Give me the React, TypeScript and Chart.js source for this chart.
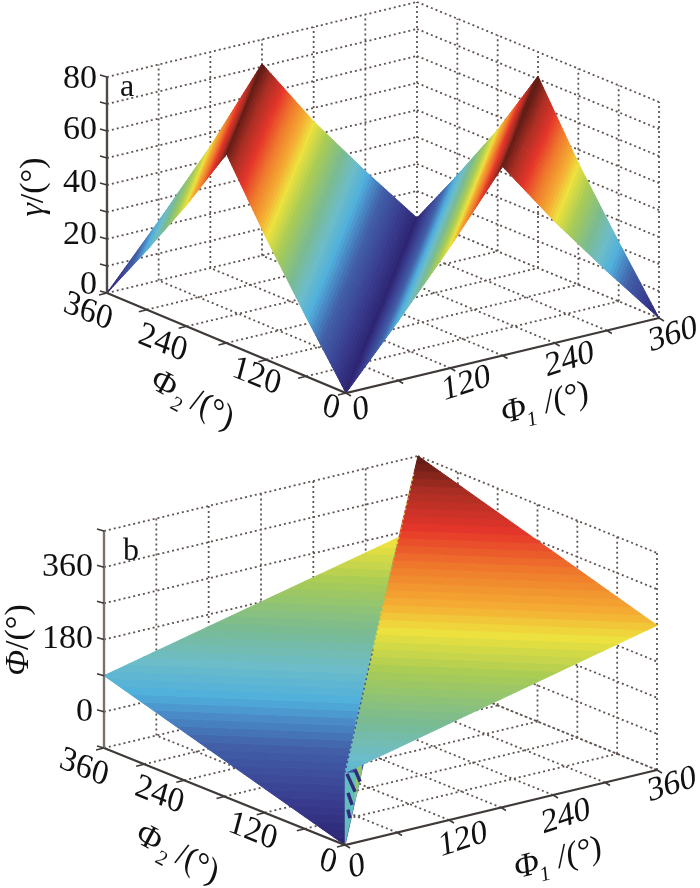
import React, { useEffect, useRef } from "react";
import { Chart, registerables } from "chart.js";

Chart.register(...registerables);

// ---- data ----
const PHI_GRID = [0, 60, 120, 180, 240, 300, 360];
const PHI_TICK_LABELS = ["0", "120", "240", "360"];
const GAMMA_TICKS = [0, 10, 20, 30, 40, 50, 60, 70, 80];
const GAMMA_TICK_LABELS = ["0", "20", "40", "60", "80"];
const PHI_Z_TICKS = [-90, 0, 90, 180, 270, 360, 450];
const PHI_Z_TICK_LABELS = ["0", "180", "360"];

// gamma(Φ1, Φ2): rows by Φ2, columns by Φ1
const GAMMA_ROWS = [
  [0, 22, 45, 70, 45, 22, 0],
  [22, 0, 22, 45, 70, 45, 22],
  [45, 22, 0, 22, 45, 71, 45],
  [70, 45, 22, 0, 22, 45, 71],
  [45, 70, 45, 22, 0, 22, 45],
  [22, 45, 70, 45, 22, 0, 22],
  [0, 22, 45, 71, 45, 22, 0],
];
// Φ(Φ1, Φ2), upper sheet (Φ1 >= Φ2)
const PHI_UPPER_ROWS: (number | null)[][] = [
  [90, 120, 150, 180, 210, 240, 270],
  [null, 150, 180, 210, 240, 270, 300],
  [null, null, 210, 240, 270, 300, 330],
  [null, null, null, 270, 300, 330, 360],
  [null, null, null, null, 330, 360, 390],
  [null, null, null, null, null, 390, 420],
  [null, null, null, null, null, null, 450],
];
// Φ(Φ1, Φ2), lower sheet (Φ2 >= Φ1)
const PHI_LOWER_ROWS: (number | null)[][] = [
  [-90, null, null, null, null, null, null],
  [-60, -30, null, null, null, null, null],
  [-30, 0, 30, null, null, null, null],
  [0, 30, 60, 90, null, null, null],
  [30, 60, 90, 120, 150, null, null],
  [60, 90, 120, 150, 180, 210, null],
  [90, 120, 150, 180, 210, 240, 270],
];
// hatch on the wall joining the two sheets near the origin: [Φ, z] ends
const SEAM_T0 = [10, 51, 15, 15];
const SEAM_Z0 = [75, 37, 22, -20];
const SEAM_T1 = [51, 76, 36, 25];
const SEAM_Z1 = [-18, -23, -33, -53];

// ---- styles ----
const JET: [number, string][] = [
  [0, "#2c2371"], [0.1, "#3a3f92"], [0.2, "#4160a8"], [0.26, "#4a8dc8"], [0.3, "#4fb0dc"], [0.37, "#6dbcc8"],
  [0.45, "#7bbb8f"], [0.55, "#a8cc55"], [0.635, "#eee23d"], [0.69, "#f4ad33"], [0.77, "#ef7a2c"],
  [0.85, "#e5352a"], [0.93, "#a92d22"], [1, "#5a1a14"],
];
const GRID_COLOR = "#5f5450";
const AXIS_COLOR = "#3f3a38";
const TXT = "#111111";

type Panel = { o: number[]; u: number[]; v: number[]; c: number; zMin: number; zMax: number; zPx: number };
const PANEL_A: Panel = { o: [346, 393], u: [313, -75], v: [-239, -100], c: -3, zMin: 0, zMax: 80, zPx: 216 };
const PANEL_B: Panel = { o: [345, 845], u: [312, -75], v: [-241, -97], c: 2, zMin: -90, zMax: 450, zPx: 217 };

const project = (p: Panel, a: number, b: number, z: number) => ({
  x: p.o[0] + (p.u[0] * a) / 360 + (p.v[0] * b) / 360 + (p.c * a * b) / 129600,
  y: p.o[1] + (p.u[1] * a) / 360 + (p.v[1] * b) / 360 - ((z - p.zMin) / (p.zMax - p.zMin)) * p.zPx,
});

const hex = (s: string) => [1, 3, 5].map((i) => parseInt(s.slice(i, i + 2), 16));
const jet = (t: number) => {
  for (let i = 1; i < JET.length; i++) {
    if (t <= JET[i][0]) {
      const [a, ca] = JET[i - 1];
      const [b, cb] = JET[i];
      const f = (t - a) / (b - a);
      const A = hex(ca);
      const B = hex(cb);
      return `rgb(${A.map((v, k) => Math.round(v + (B[k] - v) * f)).join(",")})`;
    }
  }
  return JET[JET.length - 1][1];
};

type V = [number, number, number];
const clip = (poly: V[], lim: number, keepAbove: boolean): V[] => {
  const out: V[] = [];
  for (let i = 0; i < poly.length; i++) {
    const a = poly[i];
    const b = poly[(i + 1) % poly.length];
    const ia = keepAbove ? a[2] >= lim : a[2] <= lim;
    const ib = keepAbove ? b[2] >= lim : b[2] <= lim;
    if (ia) out.push(a);
    if (ia !== ib) {
      const f = (lim - a[2]) / (b[2] - a[2]);
      out.push([a[0] + (b[0] - a[0]) * f, a[1] + (b[1] - a[1]) * f, lim]);
    }
  }
  return out;
};

const gap = { x: NaN, y: NaN };

const surfaceDatasets = (
  p: Panel,
  rows: (number | null)[][],
  lo: number,
  hi: number,
  levels: number,
) => {
  const buckets: { x: number; y: number }[][] = Array.from({ length: levels }, () => []);
  const addTri = (tri: V[]) => {
    const step = (hi - lo) / levels;
    for (let k = 0; k < levels; k++) {
      let poly = clip(tri, lo + k * step, true);
      if (poly.length) poly = clip(poly, lo + (k + 1) * step, false);
      if (poly.length < 3) continue;
      const pts = poly.map((q) => project(p, q[0], q[1], q[2]));
      buckets[k].push(...pts, pts[0], gap);
    }
  };
  for (let j = 0; j < PHI_GRID.length - 1; j++) {
    for (let i = 0; i < PHI_GRID.length - 1; i++) {
      const a = PHI_GRID[i], a2 = PHI_GRID[i + 1], b = PHI_GRID[j], b2 = PHI_GRID[j + 1];
      const z00 = rows[j][i], z10 = rows[j][i + 1], z01 = rows[j + 1][i], z11 = rows[j + 1][i + 1];
      if (z00 !== null && z10 !== null && z11 !== null)
        addTri([[a, b, z00], [a2, b, z10], [a2, b2, z11]]);
      if (z00 !== null && z01 !== null && z11 !== null)
        addTri([[a, b, z00], [a, b2, z01], [a2, b2, z11]]);
    }
  }
  return buckets.map((data, k) => {
    const c = jet((k + 0.5) / levels);
    return {
      data,
      showLine: true,
      spanGaps: false,
      pointRadius: 0,
      borderColor: c,
      borderWidth: 1,
      backgroundColor: c,
      fill: "shape",
      tension: 0,
      clip: false,
    };
  });
};

const lineSet = (data: { x: number; y: number }[], color: string, width: number, dash: number[] = []) => ({
  data,
  showLine: true,
  spanGaps: false,
  pointRadius: 0,
  borderColor: color,
  borderWidth: width,
  borderDash: dash,
  fill: false,
  tension: 0,
  clip: false,
});

const gridDataset = (p: Panel, zTicks: number[]) => {
  const d: { x: number; y: number }[] = [];
  const seg = (a: { x: number; y: number }, b: { x: number; y: number }) => d.push(a, b, gap);
  const top = p.zMax, bot = p.zMin;
  zTicks.forEach((z) => {
    seg(project(p, 0, 360, z), project(p, 360, 360, z));
    seg(project(p, 360, 360, z), project(p, 360, 0, z));
  });
  PHI_GRID.forEach((t) => {
    if (t > 0) seg(project(p, t, 360, bot), project(p, t, 360, top));
    if (t < 360) seg(project(p, 360, t, bot), project(p, 360, t, top));
    if (t > 0) seg(project(p, t, 0, bot), project(p, t, 360, bot));
    if (t > 0) seg(project(p, 0, t, bot), project(p, 360, t, bot));
  });
  return lineSet(d, GRID_COLOR, 1.8, [2, 3]);
};

const axisDatasets = (p: Panel, zTicks: number[], zColor: string) => {
  const bot = p.zMin;
  const frame: { x: number; y: number }[] = [
    project(p, 0, 360, bot), project(p, 0, 0, bot), project(p, 360, 0, bot),
  ];
  const vert = [project(p, 0, 360, bot), project(p, 0, 360, p.zMax)];
  const ticks: { x: number; y: number }[] = [];
  PHI_GRID.forEach((t) => {
    const a = project(p, t, 0, bot);
    ticks.push(a, { x: a.x + 5, y: a.y + 3 }, gap);
    const b = project(p, 0, t, bot);
    ticks.push(b, { x: b.x - 8, y: b.y + 2 }, gap);
  });
  zTicks.forEach((z) => {
    const a = project(p, 0, 360, z);
    ticks.push(a, { x: a.x - 7, y: a.y - 2 }, gap);
  });
  return [lineSet(frame, AXIS_COLOR, 2.2), lineSet(vert, zColor, 2.4), lineSet(ticks, AXIS_COLOR, 1.5)];
};

const wallDatasets = (p: Panel) => {
  const out: any[] = [];
  const tri = [project(p, 0, 0, -90), project(p, 0, 0, 90), project(p, 82, 82, -8), project(p, 0, 0, -90)];
  out.push({ ...lineSet(tri, "#62bdbf", 0.5), fill: "shape", backgroundColor: "#62bdbf" });
  const edge = [project(p, 50, 50, -40), project(p, 60, 60, 60), project(p, 82, 82, 100), project(p, 82, 82, -8), project(p, 50, 50, -40)];
  out.push({ ...lineSet(edge, "#93c96a", 0.5), fill: "shape", backgroundColor: "#93c96a" });
  SEAM_T0.forEach((t, i) => {
    out.push(
      lineSet([project(p, t, t, SEAM_Z0[i]), project(p, SEAM_T1[i], SEAM_T1[i], SEAM_Z1[i])], "#2f2c7c", 3.4),
    );
  });
  return out;
};

const seamDots = (p: Panel) => [
  lineSet([project(p, 0, 0, 90), project(p, 140, 140, 230)], "#3a4a9c", 1.4, [2, 3]),
  lineSet([project(p, 140, 140, 230), project(p, 260, 260, 350)], "#8cc46a", 1.2, [2, 3]),
  lineSet([project(p, 260, 260, 350), project(p, 340, 340, 430)], "#d8d84a", 1.2, [2, 3]),
];

const text = (
  ctx: CanvasRenderingContext2D,
  s: string,
  x: number,
  y: number,
  font: string,
  rotDeg = 0,
  tiltDeg = rotDeg,
  align: CanvasTextAlign = "center",
) => {
  const r = (rotDeg * Math.PI) / 180;
  const q = (tiltDeg * Math.PI) / 180;
  ctx.save();
  ctx.transform(Math.cos(r), Math.sin(r), -Math.sin(q), Math.cos(q), x, y);
  ctx.font = font;
  ctx.fillStyle = TXT;
  ctx.textAlign = align;
  ctx.textBaseline = "middle";
  ctx.fillText(s, 0, 0);
  ctx.restore();
};

// a run of text pieces laid along a rotated baseline, centred on (x, y)
const run = (
  ctx: CanvasRenderingContext2D,
  pieces: { s: string; font: string; dy?: number }[],
  x: number,
  y: number,
  rotDeg: number,
  tiltDeg = rotDeg,
) => {
  const r = (rotDeg * Math.PI) / 180;
  const q = (tiltDeg * Math.PI) / 180;
  ctx.save();
  ctx.transform(Math.cos(r), Math.sin(r), -Math.sin(q), Math.cos(q), x, y);
  ctx.textAlign = "left";
  ctx.textBaseline = "alphabetic";
  ctx.fillStyle = TXT;
  let w = 0;
  pieces.forEach((p) => {
    ctx.font = p.font;
    w += ctx.measureText(p.s).width;
  });
  let cx = -w / 2;
  pieces.forEach((p) => {
    ctx.font = p.font;
    ctx.fillText(p.s, cx, 11 + (p.dy ?? 0));
    cx += ctx.measureText(p.s).width;
  });
  ctx.restore();
};

const SERIF = '"Liberation Serif"';
const F = `34px ${SERIF}`;
const FI = `italic 34px ${SERIF}`;
const FS = `21px ${SERIF}`;
const FSI = `italic 21px ${SERIF}`;

const labelsPlugin = {
  id: "labels",
  afterDraw(chart: any) {
    const ctx: CanvasRenderingContext2D = chart.ctx;
    // panel a
    const a = PANEL_A;
    const aOffY = [-8, -4, -2, -1, 2];
    GAMMA_TICK_LABELS.forEach((s, i) => {
      const q = project(a, 0, 360, +s);
      text(ctx, s, 97, q.y + aOffY[i], F, 0, 0, "right");
    });
    const p2OffA = [[-15, 15], [-10, 17], [-24, 17], [-19, 19]];
    const p2OffB = [[-17, 17], [-12, 19], [-25, 15], [-20, 20]];
    const p1OffA = [[15, 17], [16, 16], [15, 17], [14, 17]];
    const p1OffB = [[12, 22], [14, 20], [13, 22], [15, 15]];
    PHI_TICK_LABELS.forEach((s, i) => {
      let q = project(a, 0, +s, 0);
      text(ctx, s, q.x + p2OffA[i][0], q.y + p2OffA[i][1], F, 22, 15);
      q = project(a, +s, 0, 0);
      text(ctx, s, q.x + p1OffA[i][0], q.y + p1OffA[i][1], F, -18, -6);
    });
    run(ctx, [{ s: "Φ", font: FI }, { s: "2", font: FSI, dy: 9 }, { s: " /(°)", font: F }], 193, 398, 28, 18);
    run(ctx, [{ s: "Φ", font: F }, { s: "1", font: FS, dy: 9 }, { s: " /(°)", font: F }], 545, 402, -14, -6);
    run(ctx, [{ s: "γ", font: FI }, { s: "/(°)", font: F }], 32, 187, -90);
    text(ctx, "a", 127, 88, `32px ${SERIF}`);

    // panel b
    const b = PANEL_B;
    PHI_Z_TICK_LABELS.forEach((s) => {
      const q = project(b, 0, 360, +s);
      text(ctx, s, 93, q.y, F, 0, 0, "right");
    });
    PHI_TICK_LABELS.forEach((s, i) => {
      let q = project(b, 0, +s, -90);
      text(ctx, s, q.x + p2OffB[i][0], q.y + p2OffB[i][1], F, 22, 15);
      q = project(b, +s, 0, -90);
      text(ctx, s, q.x + p1OffB[i][0], q.y + p1OffB[i][1], F, -18, -6);
    });
    run(ctx, [{ s: "Φ", font: FI }, { s: "2", font: FSI, dy: 9 }, { s: " /(°)", font: F }], 178, 852, 28, 18);
    run(ctx, [{ s: "Φ", font: F }, { s: "1", font: FS, dy: 9 }, { s: " /(°)", font: F }], 558, 857, -14, -6);
    run(ctx, [{ s: "Φ", font: FI }, { s: "/(°)", font: F }], 17, 640, -90);
    text(ctx, "b", 131, 552, `32px ${SERIF}`);
  },
};

export default function App() {
  const ref = useRef<HTMLCanvasElement>(null);
  useEffect(() => {
    // listed back to front; reversed below because Chart.js paints the first dataset last
    const layers: any[] = [
      gridDataset(PANEL_A, GAMMA_TICKS),
      ...surfaceDatasets(PANEL_A, GAMMA_ROWS, 0, 71, 64),
      ...axisDatasets(PANEL_A, GAMMA_TICKS, "#4f4946"),
      gridDataset(PANEL_B, PHI_Z_TICKS),
      ...surfaceDatasets(PANEL_B, PHI_LOWER_ROWS, -90, 450, 64),
      ...wallDatasets(PANEL_B),
      ...surfaceDatasets(PANEL_B, PHI_UPPER_ROWS, -90, 450, 64),
      ...seamDots(PANEL_B),
      ...axisDatasets(PANEL_B, PHI_Z_TICKS, "#7a706c"),
    ];
    const chart = new Chart(ref.current as HTMLCanvasElement, {
      type: "scatter",
      data: { datasets: layers.reverse() },
      plugins: [labelsPlugin],
      options: {
        animation: false,
        responsive: false,
        layout: { padding: 0 },
        plugins: { legend: { display: false }, tooltip: { enabled: false } },
        scales: {
          x: { type: "linear", min: 0, max: 700, display: false },
          y: { type: "linear", min: 0, max: 888, reverse: true, display: false },
        },
      },
    } as any);
    return () => chart.destroy();
  }, []);
  return (
    <canvas
      ref={ref}
      width={700}
      height={888}
      style={{ position: "absolute", left: 0, top: 0, width: 700, height: 888 }}
    />
  );
}
